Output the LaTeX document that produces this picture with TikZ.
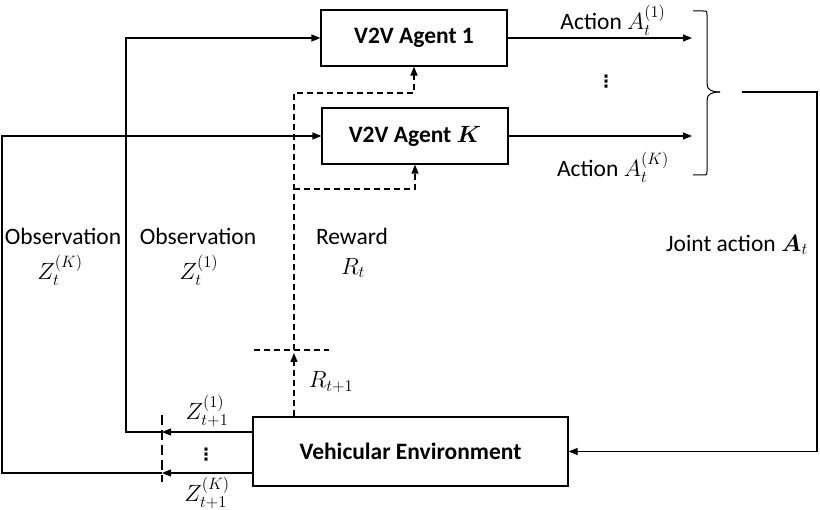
\RequirePackage{fix-cm}
\documentclass[tikz,border=0pt]{standalone}
\usepackage{amsmath}
\usepackage{fontspec}
\setmainfont{Carlito}
\newfontfamily\dvfont{DejaVu Sans}
\usetikzlibrary{arrows.meta}
\begin{document}
\begin{tikzpicture}[x=1pt,y=-1pt,line width=1.2pt,
  >={Triangle[length=9pt,width=7pt]},
  every node/.style={font=\fontsize{23.5}{28}\selectfont, inner sep=0pt},
  box/.style={draw, minimum width=186pt, minimum height=56pt},
  dsh/.style={dash pattern=on 6pt off 4pt},
  vdot/.style={font=\dvfont\bfseries\fontsize{17}{20}\selectfont}]
\useasboundingbox (0,0) rectangle (820,510);
% boxes
\node[box] (a1) at (414,38) {\bfseries V2V Agent 1};
\node[box] (aK) at (415,136) {\bfseries V2V Agent $\boldsymbol{K}$};
\node[box, minimum width=315pt, minimum height=69pt] (env) at (410.5,451.5) {\bfseries Vehicular Environment};
% observation paths
\coordinate (s1) at (162,432);
\coordinate (sK) at (162,473);
\coordinate (c1) at (126,432);
\coordinate (cK) at (2,473);
\draw[->] (env.west |- s1) -- (s1);
\draw[->] (s1) -- (c1) |- (a1.west);
\draw[->] (env.west |- sK) -- (sK);
\draw[->] (sK) -- (cK) |- (aK.west);
\coordinate (sep1) at (162,415);
\coordinate (sep2) at (162,482);
\draw[dash pattern=on 10pt off 5pt] (sep1) -- (sep2);
\node[vdot] (zd) at (206,455) {⋮};
% reward paths
\coordinate (r0) at (294,353);
\coordinate (r1) at (294,350);
\coordinate (rA) at (294,93);
\coordinate (rK) at (294,189);
\coordinate (h1) at (254,350);
\coordinate (h2) at (329,350);
\draw[->,dsh] (env.north -| r0) -- (r0);
\draw[dsh] (h1) -- (h2);
\draw[->,dsh] (r1) -- (rA) -| (a1.south);
\draw[->,dsh] (rK) -| (aK.south);
% actions
\coordinate (b1) at (692,0);
\draw[->] (a1.east) -- (a1.east -| b1);
\draw[->] (aK.east) -- (aK.east -| b1);
\node[vdot] (ad) at (606,82) {⋮};
% brace
\coordinate (bt) at (693,11);
\coordinate (bb) at (693,175);
\coordinate (br) at (720,92);
\draw[line width=1pt] (bt) -- (703,11) .. controls (707,11) .. (707,15) -- (707,84) .. controls (707,90) and (712,92) .. (br);
\draw[line width=1pt] (bb) -- (703,175) .. controls (707,175) .. (707,171) -- (707,100) .. controls (707,94) and (712,92) .. (br);
% joint action
\coordinate (j0) at (742,92);
\coordinate (j1) at (817,92);
\draw[->] (j0) -- (j1) |- (env.east);
% labels
\node (lo1) at (63,236) {Observation};
\node (lz1) at (60,270) {$Z_t^{(K)}$};
\node (lo2) at (198,236) {Observation};
\node (lz2) at (199,270) {$Z_t^{(1)}$};
\node (lr) at (352,236) {Reward};
\node (lrt) at (353,268) {$R_t$};
\node (lr1) at (331,382) {$R_{t+1}$};
\node (lzn1) at (207,411) {$Z_{t+1}^{(1)}$};
\node (lznK) at (207,493) {$Z_{t+1}^{(K)}$};
\node (la1) at (613,20) {Action $A_t^{(1)}$};
\node (laK) at (613,167) {Action $A_t^{(K)}$};
\node (lj) at (737,245) {Joint action $\boldsymbol{A}_t$};
\end{tikzpicture}
\end{document}
